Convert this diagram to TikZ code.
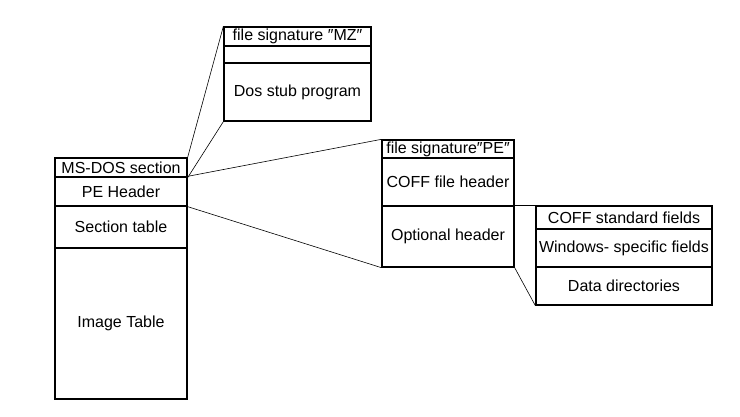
\documentclass[tikz,border=0pt]{standalone}
\usepackage{fontspec}
\setmainfont{Liberation Sans}
\begin{document}
\begin{tikzpicture}[x=1pt,y=-1pt,
		cell/.style={draw,line width=1.3pt,inner sep=0pt,font=\fontsize{16}{18}\selectfont},
		link/.style={line width=0.6pt}]
		\useasboundingbox (0,0) rectangle (740,417);
		% Datei links
		\node[cell,minimum width=132pt,minimum height=19pt] (msdos) at (121,167.5) {MS-DOS section};
		\node[cell,minimum width=132pt,minimum height=29pt] (peheader) at (121,191.5) {PE Header};
		\node[cell,minimum width=132pt,minimum height=42pt] (sectable) at (121,227) {Section table};
		\node[cell,minimum width=132pt,minimum height=151pt] (imagetable) at (121,323.5) {Image Table};
		% MS-DOS Teil
		\node[cell,minimum width=147pt,minimum height=19pt] (mzsig) at (297.5,36.5) {file signature ″MZ″};
		\node[cell,minimum width=147pt,minimum height=17pt] (mzgap) at (297.5,54.5) {};
		\node[cell,minimum width=147pt,minimum height=58pt] (dosstub) at (297.5,92) {Dos stub program};
		% PE Header
		\node[cell,minimum width=132pt,minimum height=18pt] (pesig) at (448,149) {file signature″PE″};
		\node[cell,minimum width=132pt,minimum height=48pt] (coff) at (448,182) {COFF file header};
		\node[cell,minimum width=132pt,minimum height=61pt] (optional) at (448,236.5) {Optional header};
		% Optional header
		\node[cell,minimum width=176pt,minimum height=23pt] (stdfields) at (624,217.5) {COFF standard fields};
		\node[cell,minimum width=176pt,minimum height=38pt] (winfields) at (624,248) {Windows- specific fields};
		\node[cell,minimum width=176pt,minimum height=38pt] (datadirs) at (624,286) {Data directories};
		% Verbindungen
		\draw[link] (msdos.north east) -- (mzsig.north west);
		\draw[link] (msdos.south east) -- (dosstub.south west);
		\draw[link] (peheader.north east) -- (pesig.north west);
		\draw[link] (peheader.south east) -- (optional.south west);
		\draw[link] (optional.north east) -- (stdfields.north west);
		\draw[link] (optional.south east) -- (datadirs.south west);
\end{tikzpicture}
\end{document}
